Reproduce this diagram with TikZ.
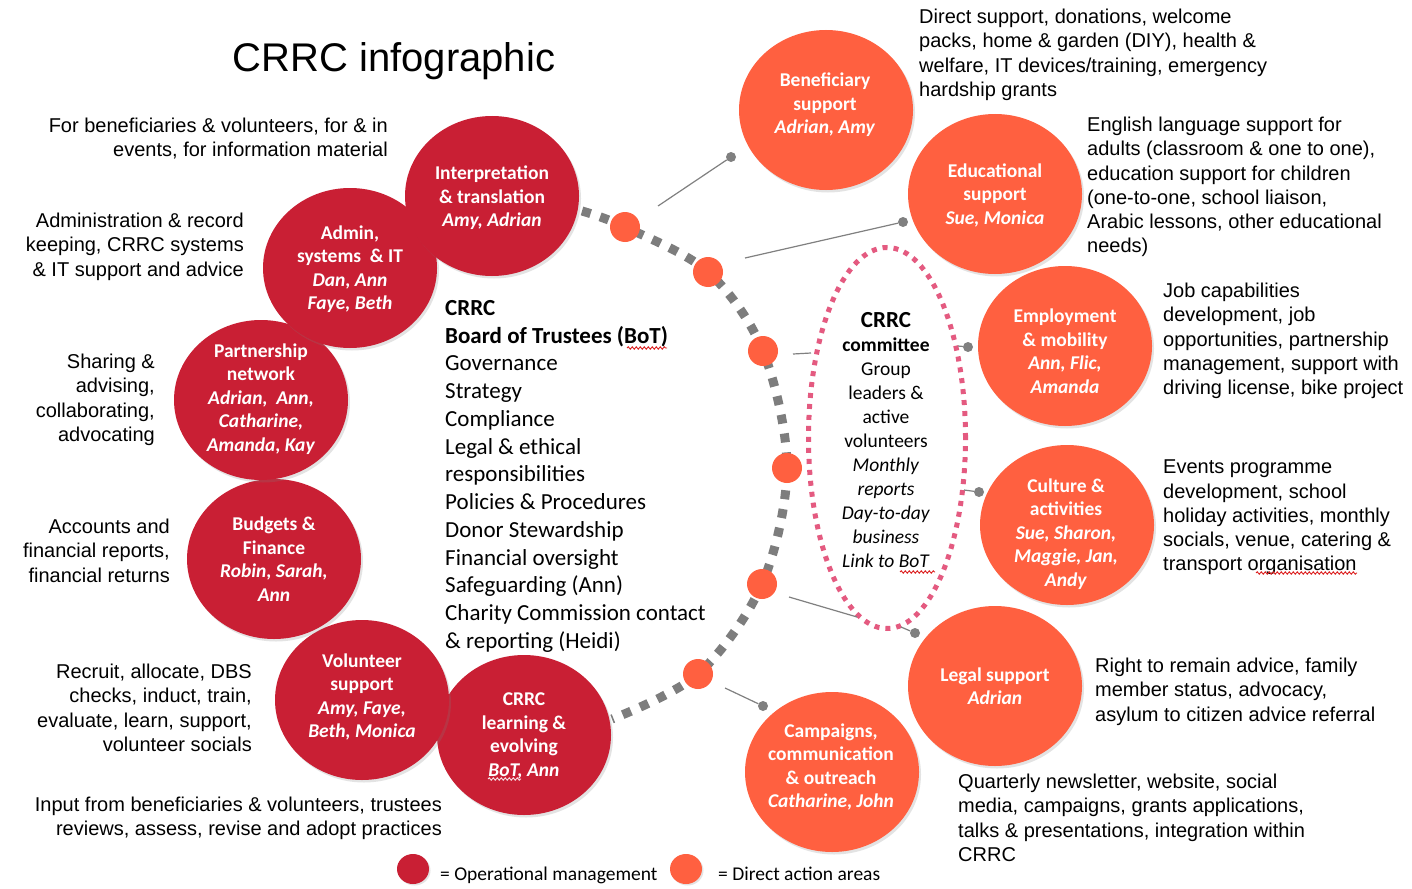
\documentclass[tikz,border=0pt]{standalone}
\usepackage{fontspec}
\setmainfont{Liberation Sans}
\newfontfamily\carlito{Carlito}
\usetikzlibrary{shapes.geometric,shadows,decorations.pathmorphing}
\definecolor{crred}{RGB}{201,31,52}
\definecolor{crorange}{RGB}{255,96,64}
\definecolor{arcgray}{RGB}{125,125,125}
\definecolor{linegray}{RGB}{128,128,128}
\definecolor{pinkdot}{RGB}{228,90,128}
\definecolor{spellred}{RGB}{220,30,30}
\begin{document}
\begin{tikzpicture}[x=1pt,y=-1pt,
  circ/.style={ellipse, minimum width=174pt, minimum height=160pt, inner sep=0pt,
    drop shadow={opacity=0.22, shadow xshift=2pt, shadow yshift=-2.5pt}},
  redc/.style={circ, fill=crred},
  orc/.style={circ, fill=crorange},
  ctext/.style={text=white, font=\carlito\bfseries\fontsize{19.5}{23.5}\selectfont, align=center, inner sep=0pt},
  smalldot/.style={circle, fill=crorange, minimum size=30pt, inner sep=0pt},
  enddot/.style={circle, fill=linegray, minimum size=10pt, inner sep=0pt},
  conn/.style={draw=linegray, line width=1.2pt},
  bodyR/.style={font=\fontsize{20}{24.2}\selectfont, align=right, anchor=north east, inner sep=0pt},
  bodyL/.style={font=\fontsize{20}{24.2}\selectfont, align=left, anchor=north west, inner sep=0pt},
  spell/.style={draw=spellred, line width=0.9pt, decorate, decoration={snake, amplitude=1.2pt, segment length=4pt}}
]
\useasboundingbox (0,0) rectangle (1412,888);
\fill[white] (0,0) rectangle (1412,888);

% title
\node[font=\fontsize{40}{44}\selectfont, inner sep=0pt] (title) at (394,61) {CRRC infographic};

% dotted gray arc
\coordinate (arcstart) at (582,211);
\coordinate (arcend) at (612,719);
\coordinate (p1) at (625,227);
\coordinate (p2) at (708,272);
\coordinate (p3) at (763,351);
\coordinate (p4) at (787,468);
\coordinate (p5) at (762,584);
\coordinate (p6) at (698,674);
\draw[arcgray, line width=9pt, dash pattern=on 9pt off 10pt]
  plot[smooth, tension=0.55] coordinates {(arcstart) (p1) (p2) (p3) (p4) (p5) (p6) (arcend)};

% committee ellipse
\node[ellipse, draw=pinkdot, line width=5pt, dash pattern=on 5pt off 6pt,
  minimum width=157pt, minimum height=381pt, inner sep=0pt] (comm) at (887,438) {};
\node[font=\carlito\fontsize{19.5}{24}\selectfont, align=center, anchor=north, inner sep=0pt] (commtext) at (886,312)
  {{\fontsize{23}{24}\selectfont\bfseries CRRC}\\ \textbf{committee}\\ Group\\ leaders \&\\ active\\ volunteers\\
   \textit{Monthly}\\ \textit{reports}\\ \textit{Day-to-day}\\ \textit{business}\\ \textit{Link to BoT}};

% red circles (operational management)
\node[redc] (learning) at (524,735) {};
\node[redc] (volunteer) at (362,700) {};
\node[redc] (budgets) at (274,559) {};
\node[redc] (partner) at (261,400) {};
\node[redc] (admin) at (350,268) {};
\node[redc] (interp) at (492,196) {};

\node[ctext] (interpT) at (492,198) {Interpretation\\ \& translation\\ \textit{Amy, Adrian}};
\node[ctext] (adminT) at (350,269) {Admin,\\ systems \ \& IT\\ \textit{Dan, Ann}\\ \textit{Faye, Beth}};
\node[ctext] (partnerT) at (261,399) {Partnership\\ network\\ \textit{Adrian, \ Ann,}\\ \textit{Catharine,}\\ \textit{Amanda, Kay}};
\node[ctext] (budgetsT) at (274,559) {Budgets \&\\ Finance\\ \textit{Robin, Sarah,}\\ \textit{Ann}};
\node[ctext] (volunteerT) at (362,697) {Volunteer\\ support\\ \textit{Amy, Faye,}\\ \textit{Beth, Monica}};
\node[ctext] (learningT) at (524,736) {CRRC\\ learning \&\\ evolving\\ \textit{BoT, Ann}};

% orange circles (direct action areas)
\node[orc] (benef) at (826,110) {};
\node[orc] (educ) at (995,194) {};
\node[orc] (employ) at (1065,346) {};
\node[orc] (culture) at (1067,525) {};
\node[orc] (legal) at (995,686) {};
\node[orc] (campaigns) at (832,772) {};

\node[ctext] (benefT) at (825,105) {Beneficiary\\ support\\ \textit{Adrian, Amy}};
\node[ctext] (educT) at (995,195) {Educational\\ support\\ \textit{Sue, Monica}};
\node[ctext] (employT) at (1065,351) {Employment\\ \& mobility\\ \textit{Ann, Flic,}\\ \textit{Amanda}};
\node[ctext] (cultureT) at (1066,534) {Culture \&\\ activities\\ \textit{Sue, Sharon,}\\ \textit{Maggie, Jan,}\\ \textit{Andy}};
\node[ctext] (legalT) at (995,686) {Legal support\\ \textit{Adrian}};
\node[ctext] (campaignsT) at (831,767) {Campaigns,\\ communication\\ \& outreach\\ \textit{Catharine, John}};

% small orange dots on the arc
\node[smalldot] (d1) at (p1) {};
\node[smalldot] (d2) at (p2) {};
\node[smalldot] (d3) at (p3) {};
\node[smalldot] (d4) at (p4) {};
\node[smalldot] (d5) at (p5) {};
\node[smalldot] (d6) at (p6) {};

% connectors
\coordinate (c1s) at (658,206);
\node[enddot] (e1) at (731,157) {};
\draw[conn] (c1s) -- (e1);
\coordinate (c2s) at (745,258);
\node[enddot] (e2) at (903,222) {};
\draw[conn] (c2s) -- (e2);
\coordinate (c3s) at (793,354);
\coordinate (c3e) at (811,353);
\draw[conn] (c3s) -- (c3e);
\coordinate (c4s) at (958,346);
\node[enddot] (e4) at (968,347) {};
\draw[conn] (c4s) -- (e4);
\coordinate (c5s) at (964,490);
\node[enddot] (e5) at (979,492) {};
\draw[conn] (c5s) -- (e5);
\coordinate (c6s) at (789,597);
\coordinate (c6e) at (857,617);
\draw[conn] (c6s) -- (c6e);
\coordinate (c7s) at (901,627);
\node[enddot] (e7) at (915,633) {};
\draw[conn] (c7s) -- (e7);
\coordinate (c8s) at (725,688);
\node[enddot] (e8) at (763,706) {};
\draw[conn] (c8s) -- (e8);

% Board of trustees text
\node[font=\carlito\fontsize{23}{27.75}\selectfont, align=left, anchor=north west, inner sep=0pt] (bot) at (445,300)
  {\textbf{CRRC}\\ \textbf{Board of Trustees (BoT)}\\ Governance\\ Strategy\\ Compliance\\ Legal \& ethical\\ responsibilities\\
   Policies \& Procedures\\ Donor Stewardship\\ Financial oversight\\ Safeguarding (Ann)\\ Charity Commission contact\\ \& reporting (Heidi)};

% left descriptions
\node[bodyR] (t1) at (388,118) {For beneficiaries \& volunteers, for \& in\\ events, for information material};
\node[bodyR] (t2) at (244,213) {Administration \& record\\ keeping, CRRC systems\\ \& IT support and advice};
\node[bodyR] (t3) at (155,354) {Sharing \&\\ advising,\\ collaborating,\\ advocating};
\node[bodyR] (t4) at (170,519) {Accounts and\\ financial reports,\\ financial returns};
\node[bodyR] (t5) at (252,664) {Recruit, allocate, DBS\\ checks, induct, train,\\ evaluate, learn, support,\\ volunteer socials};
\node[bodyR] (t6) at (442,797) {Input from beneficiaries \& volunteers, trustees\\ reviews, assess, revise and adopt practices};

% right descriptions
\node[bodyL] (r1) at (919,9) {Direct support, donations, welcome\\ packs, home \& garden (DIY), health \&\\ welfare, IT devices/training, emergency\\ hardship grants};
\node[bodyL] (r2) at (1087,117) {English language support for\\ adults (classroom \& one to one),\\ education support for children\\ (one-to-one, school liaison,\\ Arabic lessons, other educational\\ needs)};
\node[bodyL] (r3) at (1163,283) {Job capabilities\\ development, job\\ opportunities, partnership\\ management, support with\\ driving license, bike project};
\node[bodyL] (r4) at (1163,460) {Events programme\\ development, school\\ holiday activities, monthly\\ socials, venue, catering \&\\ transport organisation};
\node[bodyL] (r5) at (1095,658) {Right to remain advice, family\\ member status, advocacy,\\ asylum to citizen advice referral};
\node[bodyL] (r6) at (958,774) {Quarterly newsletter, website, social\\ media, campaigns, grants applications,\\ talks \& presentations, integration within\\ CRRC};

% spell-check marks
\draw[spell] (627,348) -- (667,348);
\draw[spell] (900,572) -- (935,572);
\draw[spell] (1256,573) -- (1357,573);
\draw[spell, draw=white!85!crred] (488,779) -- (521,779);

% legend
\node[ellipse, fill=crred, minimum width=32pt, minimum height=30pt, inner sep=0pt,
  drop shadow={opacity=0.22, shadow xshift=1.5pt, shadow yshift=-1.5pt}] (legred) at (413,869) {};
\node[font=\carlito\fontsize{19.5}{24}\selectfont, anchor=base west, inner sep=0pt] (legredT) at (440,880) {= Operational management};
\node[ellipse, fill=crorange, minimum width=32pt, minimum height=30pt, inner sep=0pt,
  drop shadow={opacity=0.22, shadow xshift=1.5pt, shadow yshift=-1.5pt}] (legor) at (686,869) {};
\node[font=\carlito\fontsize{19.5}{24}\selectfont, anchor=base west, inner sep=0pt] (legorT) at (718,880) {= Direct action areas};
\end{tikzpicture}
\end{document}
